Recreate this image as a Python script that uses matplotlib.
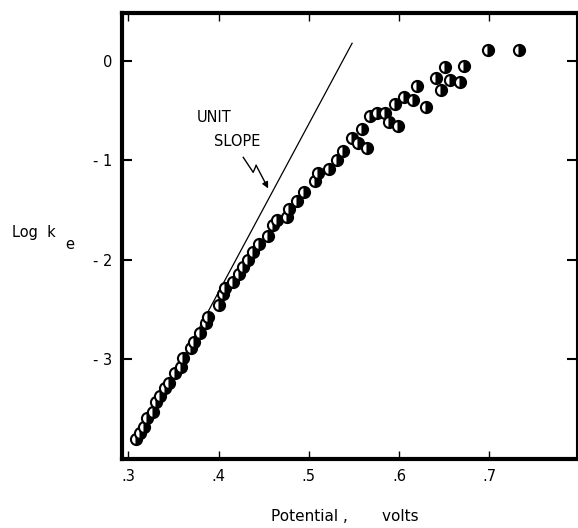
import numpy as np
import matplotlib
matplotlib.use('Agg')
import matplotlib.pyplot as plt

# potential (volts) and log k_e
potential = [0.309, 0.313, 0.317, 0.321, 0.327, 0.331, 0.335, 0.341, 0.345, 0.352,
             0.358, 0.361, 0.369, 0.373, 0.380, 0.386, 0.388, 0.400, 0.405, 0.407,
             0.416, 0.423, 0.427, 0.433, 0.438, 0.445, 0.455, 0.460, 0.465, 0.476,
             0.478, 0.487, 0.495, 0.507, 0.510, 0.522, 0.531, 0.538, 0.548, 0.554,
             0.564, 0.559, 0.568, 0.576, 0.584, 0.589, 0.599, 0.595, 0.605, 0.615,
             0.620, 0.630, 0.641, 0.647, 0.651, 0.656, 0.667, 0.672, 0.699, 0.733]
log_ke = [-3.81, -3.75, -3.69, -3.60, -3.54, -3.44, -3.38, -3.29, -3.24, -3.14,
          -3.08, -2.99, -2.89, -2.83, -2.74, -2.64, -2.58, -2.46, -2.35, -2.29,
          -2.23, -2.15, -2.07, -2.00, -1.92, -1.84, -1.76, -1.65, -1.60, -1.57,
          -1.49, -1.41, -1.32, -1.21, -1.13, -1.09, -1.00, -0.91, -0.77, -0.83,
          -0.88, -0.68, -0.55, -0.52, -0.52, -0.61, -0.65, -0.43, -0.36, -0.39,
          -0.25, -0.46, -0.17, -0.29, -0.06, -0.19, -0.21, -0.05, 0.11, 0.11]

# unit slope line (slope 1/0.059 per volt)
slope_x = [0.312, 0.548]
slope_y = [-3.82, 0.18]

xticks = [0.3, 0.4, 0.5, 0.6, 0.7]
xticklabels = ['.3', '.4', '.5', '.6', '.7']
yticks = [0, -1, -2, -3]
yticklabels = ['0', '- 1', '- 2', '- 3']

plt.rcParams['font.family'] = 'DejaVu Sans'

fig = plt.figure(figsize=(5.78, 5.28), dpi=100)
ax = fig.add_axes([0.211, 0.1307, 0.787, 0.8447])

ax.plot(slope_x, slope_y, color='black', lw=0.9, zorder=1)
ax.plot(potential, log_ke, linestyle='none', marker='o', markersize=8,
        fillstyle='right', markerfacecolor='black', markerfacecoloralt='white',
        markeredgecolor='black', markeredgewidth=1.5, zorder=2)

# lightning arrow pointing at the line
ax.plot([0.4274, 0.4384, 0.4417], [-0.970, -1.121, -1.051], color='black', lw=1.0)
ax.annotate('', xy=(0.4550, -1.283), xytext=(0.4417, -1.051),
            arrowprops=dict(arrowstyle='-|>', color='black', lw=1.0,
                            mutation_scale=9, shrinkA=0, shrinkB=0))
ax.text(0.3764, -0.566, 'UNIT', fontsize=10.5, va='center', ha='left')
ax.text(0.3952, -0.808, 'SLOPE', fontsize=10.5, va='center', ha='left')

ax.set_xlim(0.293, 0.797)
ax.set_ylim(-4.01, 0.485)
ax.set_xticks(xticks)
ax.set_xticklabels(xticklabels)
ax.set_yticks(yticks)
ax.set_yticklabels(yticklabels)

for side in ['left', 'top', 'bottom']:
    ax.spines[side].set_linewidth(3)
ax.spines['right'].set_linewidth(1.5)

ax.tick_params(axis='both', direction='in', top=True, right=True,
               labelsize=10.5, length=6, width=1, pad=7)
ax.tick_params(axis='y', length=7, width=1.5)

fig.text(0.021, 0.559, 'Log  k', fontsize=10.5, va='center', ha='left')
fig.text(0.113, 0.536, 'e', fontsize=10.5, va='center', ha='left')
fig.text(0.468, 0.021, 'Potential ,       volts', fontsize=11, va='center', ha='left')

fig.savefig('out.png', dpi=100)
